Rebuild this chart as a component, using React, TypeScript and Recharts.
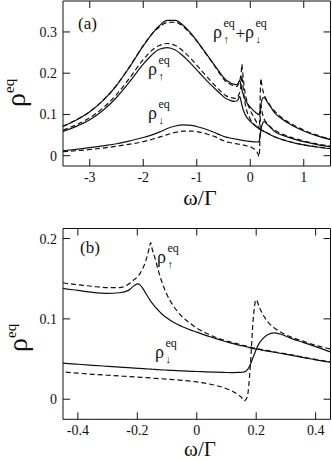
import React from "react"
import { LineChart, Line, XAxis, YAxis } from "recharts"

// omega / Gamma grid (dense around the +-0.2 features)
const omega = [
  -3.5, -3.25, -3, -2.75, -2.5, -2.25, -2, -1.85, -1.7, -1.55, -1.4, -1.25, -1.1, -0.95, -0.8, -0.65, -0.55,
  -0.45, -0.4, -0.35, -0.3, -0.26, -0.23, -0.21, -0.2, -0.19, -0.18, -0.17, -0.16, -0.155, -0.15, -0.14, -0.13,
  -0.12, -0.1, -0.08, -0.05, -0.02, 0, 0.03, 0.06, 0.09, 0.12, 0.14, 0.15, 0.16, 0.17, 0.18, 0.19, 0.2, 0.21,
  0.22, 0.24, 0.26, 0.28, 0.32, 0.36, 0.4, 0.45, 0.55, 0.7, 0.85, 1.0, 1.25, 1.5,
]

// spin up, solid
const upSolid = [
  0.059, 0.071, 0.087, 0.11, 0.141, 0.18, 0.222, 0.243, 0.258, 0.262, 0.256, 0.241, 0.222, 0.201, 0.18, 0.161, 0.149,
  0.138, 0.1355, 0.133, 0.1318, 0.1325, 0.1355, 0.1415, 0.1435, 0.142, 0.137, 0.131, 0.125, 0.122, 0.1195, 0.115, 0.111,
  0.107, 0.101, 0.096, 0.0905, 0.086, 0.0835, 0.0795, 0.076, 0.0725, 0.0695, 0.0675, 0.0668, 0.066, 0.065, 0.064, 0.063,
  0.0625, 0.062, 0.061, 0.0598, 0.0585, 0.0572, 0.0545, 0.0518, 0.049, 0.046, 0.041, 0.035, 0.03, 0.026, 0.021, 0.017,
]

// spin down, solid
const downSolid = [
  0.012, 0.0155, 0.0195, 0.024, 0.029, 0.036, 0.044, 0.05, 0.057, 0.066, 0.072, 0.0748, 0.0735, 0.069, 0.063, 0.055, 0.0495,
  0.045, 0.0435, 0.0422, 0.041, 0.04, 0.0393, 0.0388, 0.0385, 0.0383, 0.038, 0.0378, 0.0376, 0.0375, 0.0373, 0.0371, 0.0368,
  0.0366, 0.0362, 0.0358, 0.0352, 0.0347, 0.0345, 0.034, 0.0336, 0.0333, 0.0332, 0.0333, 0.0335, 0.034, 0.0365, 0.043, 0.0525,
  0.062, 0.0695, 0.0745, 0.0805, 0.0825, 0.0812, 0.0755, 0.0705, 0.0655, 0.059, 0.052, 0.045, 0.039, 0.034, 0.027, 0.022,
]

// spin up, dashed
const upDashed = [
  0.062, 0.075, 0.092, 0.116, 0.148, 0.189, 0.233, 0.254, 0.267, 0.272, 0.267, 0.253, 0.234, 0.212, 0.19, 0.169, 0.156,
  0.145, 0.1425, 0.1405, 0.139, 0.139, 0.143, 0.149, 0.152, 0.157, 0.164, 0.174, 0.188, 0.195, 0.187, 0.175, 0.161,
  0.149, 0.13, 0.117, 0.103, 0.094, 0.0885, 0.0825, 0.0775, 0.0737, 0.0706, 0.0686, 0.0676, 0.0668, 0.0658, 0.0648, 0.064,
  0.0632, 0.0625, 0.0618, 0.0604, 0.0591, 0.0578, 0.0551, 0.0523, 0.0495, 0.0465, 0.0415, 0.0355, 0.0305, 0.0265, 0.0213, 0.0172,
]

// spin down, dashed
const downDashed = [
  0.0097, 0.012, 0.015, 0.0185, 0.023, 0.028, 0.034, 0.039, 0.045, 0.051, 0.0565, 0.0595, 0.0595, 0.057, 0.052, 0.0455, 0.039,
  0.034, 0.0325, 0.031, 0.0298, 0.0289, 0.0282, 0.0278, 0.0275, 0.0273, 0.027, 0.0268, 0.0266, 0.0265, 0.0263, 0.026, 0.0257,
  0.0255, 0.025, 0.0244, 0.0235, 0.0224, 0.0215, 0.0198, 0.0175, 0.0145, 0.01, 0.0055, 0.0025, -0.002, 0.003, 0.04, 0.1,
  0.124, 0.115, 0.107, 0.096, 0.089, 0.084, 0.077, 0.072, 0.067, 0.0625, 0.055, 0.047, 0.041, 0.0355, 0.0285, 0.023,
]

const xTicksA = [-3, -2, -1, 0, 1]
const yTicksA = [0, 0.1, 0.2, 0.3]
const xTicksB = [-0.4, -0.2, 0, 0.2, 0.4]
const yTicksB = [0, 0.1, 0.2]

const data = omega.map((w, i) => ({
  w,
  upS: upSolid[i],
  dnS: downSolid[i],
  upD: upDashed[i],
  dnD: downDashed[i],
  sumS: upSolid[i] + downSolid[i],
  sumD: upDashed[i] + downDashed[i],
}))

const FONT = "'Liberation Serif', 'Times New Roman', serif"
const INK = "#111"
const TL = 7

const BottomTick = ({ x, y, payload }: any) => (
  <g>
    <line x1={x} y1={y} x2={x} y2={y - TL} stroke={INK} />
    <text x={x} y={y + 15.5} textAnchor="middle" fontSize={14} fontFamily={FONT} fill={INK}>
      {payload.value}
    </text>
  </g>
)
const TopTick = ({ x, y }: any) => <line x1={x} y1={y} x2={x} y2={y + TL} stroke={INK} />
const LeftTick = ({ x, y, payload }: any) => (
  <g>
    <line x1={x} y1={y} x2={x + TL} y2={y} stroke={INK} />
    <text x={x - 6} y={y + 5} textAnchor="end" fontSize={14} fontFamily={FONT} fill={INK}>
      {payload.value}
    </text>
  </g>
)
const RightTick = ({ x, y }: any) => <line x1={x} y1={y} x2={x - TL} y2={y} stroke={INK} />

interface PanelProps {
  width: number
  height: number
  margin: { top: number; right: number; bottom: number; left: number }
  xDomain: [number, number]
  yDomain: [number, number]
  xTicks: number[]
  yTicks: number[]
  keys: { key: string; dashed: boolean }[]
}

// axes get a 1px band each (a zero-size axis is not drawn at all)
function Panel({ width, height, margin, xDomain, yDomain, xTicks, yTicks, keys }: PanelProps) {
  const axisLine = { stroke: INK, strokeWidth: 1 }
  return (
    <LineChart width={width} height={height} data={data} margin={margin}>
      <XAxis xAxisId="b" dataKey="w" type="number" domain={xDomain} ticks={xTicks} interval={0}
        allowDataOverflow height={1} tickSize={0} tickMargin={0} tickLine={false} axisLine={axisLine}
        tick={(p: any) => <BottomTick {...p} />} />
      <XAxis xAxisId="t" orientation="top" dataKey="w" type="number" domain={xDomain} ticks={xTicks} interval={0}
        allowDataOverflow height={1} tickSize={0} tickMargin={0} tickLine={false} axisLine={axisLine}
        tick={(p: any) => <TopTick {...p} />} />
      <YAxis yAxisId="l" type="number" domain={yDomain} ticks={yTicks} interval={0}
        allowDataOverflow width={1} tickSize={0} tickMargin={0} tickLine={false} axisLine={axisLine}
        tick={(p: any) => <LeftTick {...p} />} />
      <YAxis yAxisId="r" orientation="right" type="number" domain={yDomain} ticks={yTicks} interval={0}
        allowDataOverflow width={1} tickSize={0} tickMargin={0} tickLine={false} axisLine={axisLine}
        tick={(p: any) => <RightTick {...p} />} />
      {keys.map((k) => (
        <Line key={k.key} xAxisId="b" yAxisId="l" dataKey={k.key} type="monotone" stroke={INK}
          strokeWidth={1.2} strokeDasharray={k.dashed ? "5 3" : undefined} dot={false}
          activeDot={false} isAnimationActive={false} />
      ))}
    </LineChart>
  )
}

function Rho({ x, y, arrow, size = 18 }: { x: number; y: number; arrow: string; size?: number }) {
  return (
    <g fontFamily={FONT} fill={INK}>
      <text x={x} y={y} fontSize={size}>ρ</text>
      <text x={x + 10.5} y={y - 11} fontSize={12}>eq</text>
      <text x={x + 10.5} y={y + 5} fontSize={11}>{arrow}</text>
    </g>
  )
}

export default function App() {
  return (
    <div style={{ position: "absolute", left: 0, top: 0, width: 332, height: 462, background: "#fff" }}>
      <div style={{ position: "absolute", left: 0, top: 0 }}>
        <Panel width={332} height={220} margin={{ top: 0, right: 0.5, bottom: 53, left: 62 }}
          xDomain={[-3.5, 1.5]} yDomain={[-0.025, 0.375]} xTicks={xTicksA} yTicks={yTicksA}
          keys={[
            { key: "sumS", dashed: false }, { key: "sumD", dashed: true },
            { key: "upS", dashed: false }, { key: "upD", dashed: true },
            { key: "dnS", dashed: false }, { key: "dnD", dashed: true },
          ]} />
      </div>
      <div style={{ position: "absolute", left: 0, top: 220 }}>
        <Panel width={332} height={242} margin={{ top: 7.5, right: 0.5, bottom: 41.7, left: 62 }}
          xDomain={[-0.45, 0.45]} yDomain={[-0.025, 0.2125]} xTicks={xTicksB} yTicks={yTicksB}
          keys={[
            { key: "upS", dashed: false }, { key: "upD", dashed: true },
            { key: "dnS", dashed: false }, { key: "dnD", dashed: true },
          ]} />
      </div>
      <svg width={332} height={462} style={{ position: "absolute", left: 0, top: 0, pointerEvents: "none" }}>
        <g fontFamily={FONT} fill={INK}>
          {/* panel (a) */}
          <text x={78} y={29} fontSize={17}>(a)</text>
          <Rho x={213} y={38} arrow="↑" />
          <text x={235.5} y={39} fontSize={17}>+</text>
          <Rho x={245} y={38} arrow="↓" />
          <Rho x={148} y={75} arrow="↑" />
          <Rho x={148} y={119} arrow="↓" />
          <text x={200} y={205} fontSize={22} textAnchor="middle">ω/Γ</text>
          <text transform="translate(25,107) rotate(-90)" fontSize={28}>
            ρ<tspan dy={-11} fontSize={15}>eq</tspan>
          </text>
          {/* panel (b) */}
          <text x={80} y={253} fontSize={17}>(b)</text>
          <Rho x={157} y={263} arrow="↑" />
          <Rho x={155} y={358} arrow="↓" />
          <text x={200} y={456} fontSize={21} textAnchor="middle">ω/Γ</text>
          <text transform="translate(27,352) rotate(-90)" fontSize={28}>
            ρ<tspan dy={-11} fontSize={15}>eq</tspan>
          </text>
        </g>
      </svg>
    </div>
  )
}
